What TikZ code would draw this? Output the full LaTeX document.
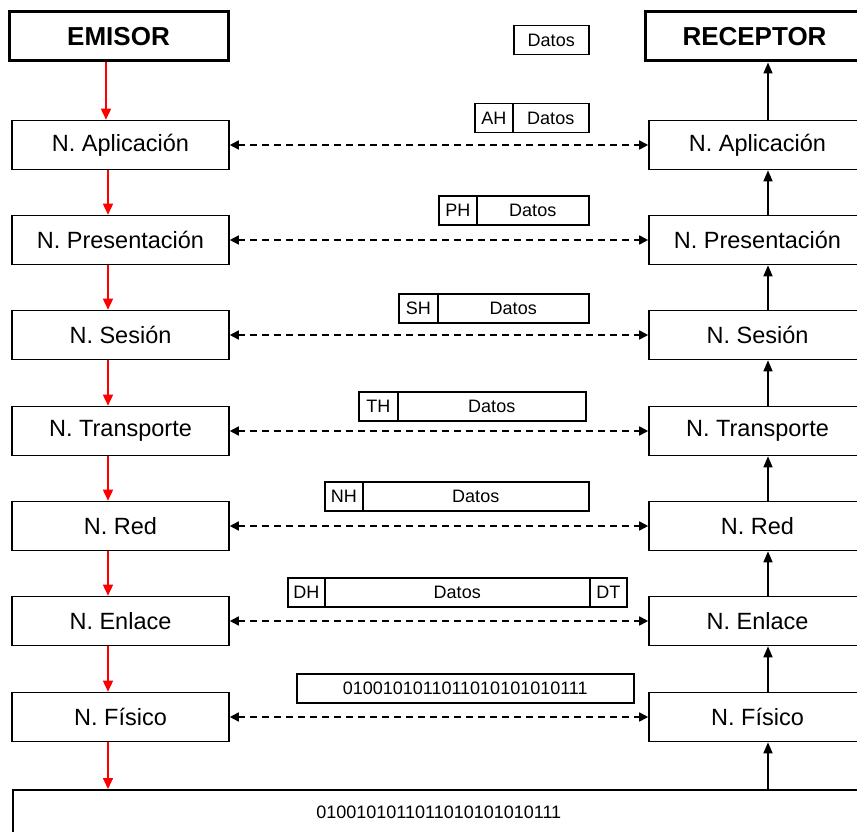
\documentclass[tikz,border=0pt]{standalone}
\usepackage{fontspec}
\setmainfont{Liberation Sans}
\usetikzlibrary{arrows.meta}
\begin{document}
\begin{tikzpicture}[x=1pt,y=-1pt,
  layer/.style={draw, line width=1.6pt, minimum width=217pt, minimum height=49pt,
    inner sep=0pt, font=\fontsize{23.5}{28}\selectfont},
  endpoint/.style={draw, line width=3pt, minimum width=219pt, minimum height=49pt,
    inner sep=0pt, font=\bfseries\fontsize{26}{30}\selectfont},
  pkt/.style={draw, line width=1.5pt, minimum height=29pt, inner sep=0pt,
    font=\fontsize{18}{21}\selectfont, anchor=north west},
  down/.style={red, line width=1.6pt, -{Triangle[length=11pt,width=10pt]}},
  up/.style={black, line width=1.6pt, -{Triangle[length=11pt,width=9pt]}},
  peer/.style={line width=1.6pt, dash pattern=on 7pt off 5pt,
    {Triangle[length=9pt,width=9pt]}-{Triangle[length=9pt,width=9pt]}}]

\clip (0,0) rectangle (857,832);

% sender and receiver
\node[endpoint] (emisor) at (118.5,36.5) {EMISOR};
\node[endpoint] (receptor) at (754.5,36.5) {RECEPTOR};

% protocol stacks on both sides, with peer-to-peer links
\foreach \i/\y/\t in {1/145/N. Aplicación, 2/240/N. Presentación, 3/335/N. Sesión,
                      4/431/N. Transporte, 5/526/N. Red, 6/621/N. Enlace, 7/717/N. Físico} {
  \node[layer] (l\i) at (120.5, \y) {\t};
  \node[layer] (r\i) at (757.5, \y) {\t};
  \draw[peer] (l\i.east) -- (r\i.west);
}

% physical medium
\node[draw, line width=1.6pt, minimum width=852pt, minimum height=44pt,
      inner sep=0pt, anchor=north west, font=\fontsize{18}{21}\selectfont]
      (medium) at (12,789) {0100101011011010101010111};

% vertical flow: down on the sender side, up on the receiver side
\coordinate (lx) at (108,0);
\coordinate (ex) at (106,0);
\coordinate (rx) at (768,0);
\draw[down] (ex |- emisor.south) -- (ex |- l1.north);
\foreach \a/\b in {1/2, 2/3, 3/4, 4/5, 5/6, 6/7}
  \draw[down] (lx |- l\a.south) -- (lx |- l\b.north);
\draw[down] (lx |- l7.south) -- (lx |- medium.north);

\draw[up] (rx |- r1.north) -- (rx |- receptor.south);
\foreach \a/\b in {1/2, 2/3, 3/4, 4/5, 5/6, 6/7}
  \draw[up] (rx |- r\b.north) -- (rx |- r\a.south);
\draw[up] (rx |- medium.north) -- (rx |- r7.south);

% encapsulated data units
\node[pkt, minimum width=75pt] (d0) at (513,25) {Datos};

\node[pkt, minimum width=38pt] (ah) at (474,103) {AH};
\node[pkt, minimum width=76pt] (d1) at (512,103) {Datos};

\node[pkt, minimum width=38pt] (ph) at (438,195) {PH};
\node[pkt, minimum width=112pt] (d2) at (476,195) {Datos};

\node[pkt, minimum width=39pt] (sh) at (398,293) {SH};
\node[pkt, minimum width=151pt] (d3) at (437,293) {Datos};

\node[pkt, minimum width=39pt] (th) at (358,391) {TH};
\node[pkt, minimum width=188pt] (d4) at (397,391) {Datos};

\node[pkt, minimum width=38pt] (nh) at (324,481) {NH};
\node[pkt, minimum width=226pt] (d5) at (362,481) {Datos};

\node[pkt, minimum width=37pt] (dh) at (287,577) {DH};
\node[pkt, minimum width=265pt] (d6) at (324,577) {Datos};
\node[pkt, minimum width=37pt] (dt) at (589,577) {DT};

\node[pkt, minimum width=337pt] (bits) at (296,673) {0100101011011010101010111};
\end{tikzpicture}
\end{document}
